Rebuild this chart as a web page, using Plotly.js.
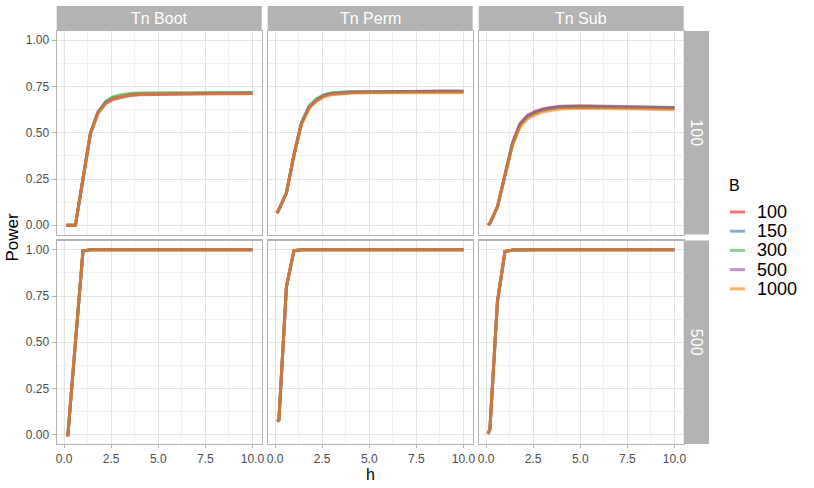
<!DOCTYPE html>
<html>
<head>
<meta charset="utf-8">
<script src="https://cdn.plot.ly/plotly-3.0.1.min.js"></script>
<style>html,body{margin:0;padding:0;background:#fff;}#chart{width:814px;height:488px;}</style>
</head>
<body>
<div id="chart"></div>
<script>
// ---- data ----
const h = [0.1, 0.2, 0.6, 1.0, 1.4, 1.8, 2.2, 2.6, 3.0, 3.5, 4, 5, 6, 7, 8, 9, 10];
const B = ['100', '150', '300', '500', '1000'];
const tests = ['Tn Boot', 'Tn Perm', 'Tn Sub'];
const nRows = ['100', '500'];

// N = 100
const boot100_B100  = [0,0,0,0.25,0.50,0.61,0.66,0.685,0.695,0.705,0.708,0.710,0.710,0.712,0.713,0.712,0.712];
const boot100_B150  = [0,0,0,0.25,0.50,0.615,0.665,0.69,0.70,0.71,0.712,0.714,0.714,0.714,0.715,0.716,0.717];
const boot100_B300  = [0,0,0,0.25,0.50,0.61,0.67,0.695,0.705,0.712,0.715,0.716,0.716,0.715,0.716,0.717,0.718];
const boot100_B500  = [0,0,0,0.25,0.495,0.605,0.66,0.68,0.69,0.70,0.705,0.708,0.709,0.710,0.711,0.712,0.712];
const boot100_B1000 = [0,0,0,0.25,0.495,0.605,0.655,0.68,0.693,0.703,0.707,0.710,0.710,0.711,0.712,0.711,0.711];

const perm100_B100  = [0.065,0.085,0.175,0.38,0.55,0.635,0.675,0.70,0.71,0.715,0.718,0.720,0.722,0.724,0.726,0.725,0.725];
const perm100_B150  = [0.065,0.085,0.175,0.38,0.555,0.64,0.68,0.705,0.715,0.72,0.722,0.722,0.722,0.722,0.723,0.722,0.722];
const perm100_B300  = [0.065,0.085,0.175,0.385,0.555,0.645,0.685,0.705,0.715,0.72,0.721,0.72,0.72,0.721,0.722,0.722,0.721];
const perm100_B500  = [0.065,0.085,0.175,0.38,0.55,0.635,0.675,0.70,0.71,0.715,0.718,0.72,0.722,0.725,0.726,0.726,0.725];
const perm100_B1000 = [0.065,0.085,0.175,0.375,0.545,0.63,0.67,0.695,0.705,0.71,0.713,0.716,0.716,0.715,0.715,0.716,0.716];

const sub100_B100  = [0.0,0.01,0.10,0.27,0.445,0.55,0.595,0.615,0.628,0.638,0.643,0.646,0.645,0.642,0.640,0.638,0.637];
const sub100_B150  = [0.0,0.01,0.10,0.27,0.445,0.545,0.59,0.61,0.625,0.635,0.640,0.642,0.642,0.640,0.638,0.636,0.635];
const sub100_B300  = [0.0,0.01,0.10,0.27,0.44,0.54,0.585,0.605,0.62,0.63,0.636,0.638,0.638,0.636,0.636,0.635,0.634];
const sub100_B500  = [0.0,0.01,0.10,0.27,0.44,0.545,0.59,0.61,0.624,0.634,0.639,0.641,0.640,0.638,0.636,0.633,0.632];
const sub100_B1000 = [0.0,0.01,0.10,0.265,0.43,0.53,0.575,0.597,0.612,0.622,0.628,0.632,0.632,0.630,0.628,0.626,0.625];

// N = 500
const boot500_B100  = [0,0,0.50,0.993,1,1,1,1,1,1,1,1,1,1,1,1,1];
const boot500_B150  = [0,0,0.50,0.993,1,1,1,1,1,1,1,1,1,1,1,1,1];
const boot500_B300  = [0,0,0.50,0.994,1,1,1,1,1,1,1,1,1,1,1,1,1];
const boot500_B500  = [0,0,0.50,0.993,1,1,1,1,1,1,1,1,1,1,1,1,1];
const boot500_B1000 = [0,0,0.50,0.993,1,1,1,1,1,1,1,1,1,1,1,1,1];

const perm500_B100  = [0.072,0.08,0.80,0.995,1,1,1,1,1,1,1,1,1,1,1,1,1];
const perm500_B150  = [0.072,0.08,0.80,0.995,1,1,1,1,1,1,1,1,1,1,1,1,1];
const perm500_B300  = [0.072,0.08,0.80,0.995,1,1,1,1,1,1,1,1,1,1,1,1,1];
const perm500_B500  = [0.072,0.08,0.80,0.995,1,1,1,1,1,1,1,1,1,1,1,1,1];
const perm500_B1000 = [0.072,0.08,0.80,0.995,1,1,1,1,1,1,1,1,1,1,1,1,1];

const sub500_B100  = [0.005,0.03,0.72,0.99,0.998,1,1,1,1,1,1,1,1,1,1,1,1];
const sub500_B150  = [0.005,0.03,0.72,0.99,0.998,1,1,1,1,1,1,1,1,1,1,1,1];
const sub500_B300  = [0.005,0.03,0.72,0.99,0.998,1,1,1,1,1,1,1,1,1,1,1,1];
const sub500_B500  = [0.005,0.03,0.72,0.99,0.998,1,1,1,1,1,1,1,1,1,1,1,1];
const sub500_B1000 = [0.005,0.03,0.72,0.99,0.998,1,1,1,1,1,1,1,1,1,1,1,1];

const xTickVals = [0, 2.5, 5, 7.5, 10];
const xTickText = ['0.0', '2.5', '5.0', '7.5', '10.0'];
const yTickVals = [0, 0.25, 0.5, 0.75, 1];
const yTickText = ['0.00', '0.25', '0.50', '0.75', '1.00'];

const panels = [
  [boot100_B100, boot100_B150, boot100_B300, boot100_B500, boot100_B1000],
  [perm100_B100, perm100_B150, perm100_B300, perm100_B500, perm100_B1000],
  [sub100_B100, sub100_B150, sub100_B300, sub100_B500, sub100_B1000],
  [boot500_B100, boot500_B150, boot500_B300, boot500_B500, boot500_B1000],
  [perm500_B100, perm500_B150, perm500_B300, perm500_B500, perm500_B1000],
  [sub500_B100, sub500_B150, sub500_B300, sub500_B500, sub500_B1000]
];

// ---- styling ----
const colors = ['#E41A1C', '#377EB8', '#4DAF4A', '#984EA3', '#FF7F00'];
const alpha = 0.6;
function rgba(hex, a) {
  const r = parseInt(hex.slice(1,3),16), g = parseInt(hex.slice(3,5),16), b = parseInt(hex.slice(5,7),16);
  return `rgba(${r},${g},${b},${a})`;
}
const W = 814, H = 488;
const FONT = 'Liberation Sans, Arial, sans-serif';
const colX = [[56.7, 261.7], [267.7, 472.7], [478.7, 683.7]];
const rowY = [[31, 234.5], [240.5, 444]];
const px = v => v / W;
const py = v => 1 - v / H;

const traces = [];
const layout = {
  width: W, height: H,
  margin: {l: 0, r: 0, t: 0, b: 0},
  paper_bgcolor: '#ffffff', plot_bgcolor: '#ffffff',
  showlegend: false,
  font: {family: FONT, color: '#4D4D4D', size: 12},
  shapes: [], annotations: []
};

for (let p = 0; p < 6; p++) {
  const row = Math.floor(p / 3), col = p % 3;
  const idx = p === 0 ? '' : String(p + 1);
  const xa = 'xaxis' + idx, ya = 'yaxis' + idx;
  layout[xa] = {
    domain: [px(colX[col][0]), px(colX[col][1])],
    anchor: 'y' + idx,
    range: [-0.395, 10.495],
    tickmode: 'array', tickvals: xTickVals, ticktext: xTickText,
    showticklabels: row === 1,
    ticks: row === 1 ? 'outside' : '', ticklen: 3, tickwidth: 1, tickcolor: '#B3B3B3',
    tickfont: {family: FONT, size: 12, color: '#4D4D4D'},
    showgrid: true, gridcolor: '#E3E3E3', gridwidth: 1,
    minor: {tickvals: [1.25, 3.75, 6.25, 8.75], showgrid: true, gridcolor: '#F1F1F1', gridwidth: 1, ticks: ''},
    zeroline: false,
    showline: true, mirror: true, linecolor: '#B3B3B3', linewidth: 1.2
  };
  layout[ya] = {
    domain: [py(rowY[row][1]), py(rowY[row][0])],
    anchor: 'x' + idx,
    range: [-0.05, 1.05],
    tickmode: 'array', tickvals: yTickVals, ticktext: yTickText,
    showticklabels: col === 0,
    ticks: col === 0 ? 'outside' : '', ticklen: 4, tickwidth: 1, tickcolor: '#B3B3B3',
    tickfont: {family: FONT, size: 12, color: '#4D4D4D'},
    showgrid: true, gridcolor: '#E3E3E3', gridwidth: 1,
    minor: {tickvals: [0.125, 0.375, 0.625, 0.875], showgrid: true, gridcolor: '#F1F1F1', gridwidth: 1, ticks: ''},
    zeroline: false,
    showline: true, mirror: true, linecolor: '#B3B3B3', linewidth: 1.2
  };
  for (let s = 0; s < B.length; s++) {
    traces.push({
      type: 'scatter', mode: 'lines',
      x: h, y: panels[p][s],
      xaxis: 'x' + idx, yaxis: 'y' + idx,
      name: B[s],
      line: {color: rgba(colors[s], alpha), width: 3},
      hoverinfo: 'skip'
    });
  }
}

// top strips
for (let c = 0; c < 3; c++) {
  layout.shapes.push({type: 'rect', xref: 'paper', yref: 'paper',
    x0: px(colX[c][0]), x1: px(colX[c][1]), y0: py(31), y1: py(6),
    fillcolor: '#B3B3B3', line: {width: 0}, layer: 'below'});
  layout.annotations.push({xref: 'paper', yref: 'paper',
    x: px((colX[c][0] + colX[c][1]) / 2), y: py(18.5),
    text: tests[c], showarrow: false, xanchor: 'center', yanchor: 'middle',
    font: {family: FONT, size: 16, color: '#FFFFFF'}});
}
// right strips
for (let r = 0; r < 2; r++) {
  layout.shapes.push({type: 'rect', xref: 'paper', yref: 'paper',
    x0: px(683.7), x1: px(709), y0: py(rowY[r][1]), y1: py(rowY[r][0]),
    fillcolor: '#B3B3B3', line: {width: 0}, layer: 'below'});
  layout.annotations.push({xref: 'paper', yref: 'paper',
    x: px(696.4), y: py((rowY[r][0] + rowY[r][1]) / 2),
    text: nRows[r], showarrow: false, textangle: 90, xanchor: 'center', yanchor: 'middle',
    font: {family: FONT, size: 16, color: '#FFFFFF'}});
}
// axis titles
layout.annotations.push({xref: 'paper', yref: 'paper', x: px(370.2), y: py(474),
  text: 'h', showarrow: false, xanchor: 'center', yanchor: 'middle',
  font: {family: FONT, size: 16, color: '#000000'}});
layout.annotations.push({xref: 'paper', yref: 'paper', x: px(12), y: py(237.5),
  text: 'Power', showarrow: false, textangle: -90, xanchor: 'center', yanchor: 'middle',
  font: {family: FONT, size: 17, color: '#000000'}});

// legend (manual)
layout.annotations.push({xref: 'paper', yref: 'paper', x: px(727), y: py(185.5),
  text: 'B', showarrow: false, xanchor: 'left', yanchor: 'middle',
  font: {family: FONT, size: 16, color: '#000000'}});
const legY = [212, 231.2, 250.4, 269.6, 288.8];
for (let s = 0; s < B.length; s++) {
  layout.shapes.push({type: 'line', xref: 'paper', yref: 'paper',
    x0: px(730), x1: px(745), y0: py(legY[s]), y1: py(legY[s]),
    line: {color: rgba(colors[s], alpha), width: 3}});
  layout.annotations.push({xref: 'paper', yref: 'paper', x: px(755), y: py(legY[s]),
    text: B[s], showarrow: false, xanchor: 'left', yanchor: 'middle',
    font: {family: FONT, size: 18, color: '#000000'}});
}

Plotly.newPlot('chart', traces, layout, {displayModeBar: false, staticPlot: true});
</script>
</body>
</html>
